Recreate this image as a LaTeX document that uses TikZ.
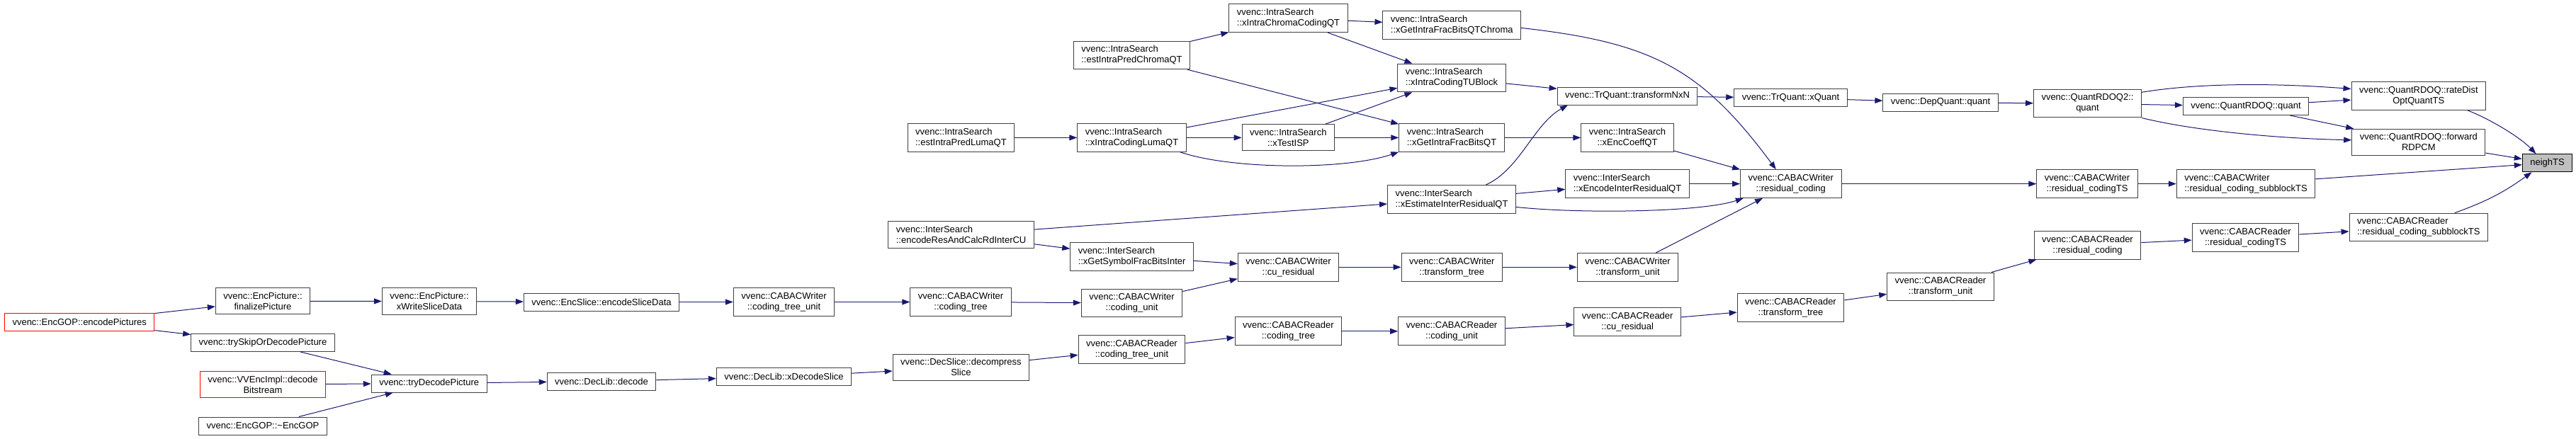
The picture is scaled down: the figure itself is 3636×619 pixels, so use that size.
\documentclass[tikz,border=0pt]{standalone}
\usepackage{fontspec}
\setmainfont{Liberation Sans}
\usetikzlibrary{arrows.meta}
\definecolor{edgeblue}{HTML}{191970}
\definecolor{boxgray}{HTML}{404040}
\definecolor{focusgray}{HTML}{BFBFBF}
\tikzset{
 fn/.style={draw=boxgray,fill=white,line width=1pt,inner xsep=11pt,inner ysep=6.3pt,minimum height=25pt,align=center},
 fnl/.style={fn,align=left},
 rootfn/.style={fn,draw=red},
 focusfn/.style={fn,draw=black,fill=focusgray},
 callarrow/.style={->,draw=edgeblue,line width=1pt}
}
\begin{document}
\begin{tikzpicture}[x=1pt,y=-1pt,>={Triangle[length=11pt,width=8pt]},font=\fontsize{13}{15}\selectfont]
\useasboundingbox (0,0) rectangle (3636,619);
\node[rootfn] (encPics) at (112.2,454.5) {vvenc::EncGOP::encodePictures};
\node[fn] (finPic) at (371,425.3) {vvenc::EncPicture::\\finalizePicture};
\node[fn] (trySkip) at (371,484) {vvenc::trySkipOrDecodePicture};
\node[rootfn] (decBits) at (371,543) {vvenc::VVEncImpl::decode\\Bitstream};
\node[fn] (gopDtor) at (371,601.5) {vvenc::EncGOP::\textasciitilde EncGOP};
\node[fn] (wrSlice) at (606,425.5) {vvenc::EncPicture::\\xWriteSliceData};
\node[fn] (tryDec) at (605.7,541.5) {vvenc::tryDecodePicture};
\node[fn] (encSlice) at (849,426.5) {vvenc::EncSlice::encodeSliceData};
\node[fn] (wCtu) at (1106.5,426.5) {vvenc::CABACWriter\\::coding\_tree\_unit};
\node[fn] (libDec) at (849,538.5) {vvenc::DecLib::decode};
\node[fn] (libSlice) at (1106.5,532.3) {vvenc::DecLib::xDecodeSlice};
\node[fnl] (lumaQT) at (1356.4,194.4) {vvenc::IntraSearch\\::estIntraPredLumaQT};
\node[fnl] (resCalc) at (1356.6,331.5) {vvenc::InterSearch\\::encodeResAndCalcRdInterCU};
\node[fn] (wTree) at (1356,426.5) {vvenc::CABACWriter\\::coding\_tree};
\node[fn] (decomp) at (1356.4,518.8) {vvenc::DecSlice::decompress\\Slice};
\node[fnl] (chromaQT) at (1597.5,78) {vvenc::IntraSearch\\::estIntraPredChromaQT};
\node[fnl] (xLuma) at (1597.5,194.4) {vvenc::IntraSearch\\::xIntraCodingLumaQT};
\node[fnl] (symBits) at (1597.6,362.4) {vvenc::InterSearch\\::xGetSymbolFracBitsInter};
\node[fn] (wCu) at (1597.5,428) {vvenc::CABACWriter\\::coding\_unit};
\node[fn] (rCtu) at (1597.5,493.4) {vvenc::CABACReader\\::coding\_tree\_unit};
\node[fnl] (xChroma) at (1818.5,25.7) {vvenc::IntraSearch\\::xIntraChromaCodingQT};
\node[fn] (testIsp) at (1818.3,194.4) {vvenc::IntraSearch\\::xTestISP};
\node[fn] (wCuRes) at (1818.5,377.3) {vvenc::CABACWriter\\::cu\_residual};
\node[fn] (rTree) at (1818.4,467.8) {vvenc::CABACReader\\::coding\_tree};
\node[fnl] (bitsChroma) at (2049.3,35.4) {vvenc::IntraSearch\\::xGetIntraFracBitsQTChroma};
\node[fnl] (tuBlock) at (2049,110) {vvenc::IntraSearch\\::xIntraCodingTUBlock};
\node[fnl] (bitsQT) at (2049,194.4) {vvenc::IntraSearch\\::xGetIntraFracBitsQT};
\node[fnl] (estInter) at (2049,281.4) {vvenc::InterSearch\\::xEstimateInterResidualQT};
\node[fn] (wTrTree) at (2049.3,377.3) {vvenc::CABACWriter\\::transform\_tree};
\node[fn] (rCu) at (2049,467.8) {vvenc::CABACReader\\::coding\_unit};
\node[fn] (trNxN) at (2297,135.5) {vvenc::TrQuant::transformNxN};
\node[fn] (encCoeff) at (2297,194.4) {vvenc::IntraSearch\\::xEncCoeffQT};
\node[fnl] (encInter) at (2297,259.6) {vvenc::InterSearch\\::xEncodeInterResidualQT};
\node[fn] (wTrUnit) at (2297.5,377.3) {vvenc::CABACWriter\\::transform\_unit};
\node[fn] (rCuRes) at (2297.2,454.5) {vvenc::CABACReader\\::cu\_residual};
\node[fn] (xQuant) at (2527.5,138.2) {vvenc::TrQuant::xQuant};
\node[fn] (wRes) at (2527.8,259.6) {vvenc::CABACWriter\\::residual\_coding};
\node[fn] (rTrTree) at (2527.5,434.5) {vvenc::CABACReader\\::transform\_tree};
\node[fn] (depQuant) at (2739,144.7) {vvenc::DepQuant::quant};
\node[fn] (rTrUnit) at (2739,404.8) {vvenc::CABACReader\\::transform\_unit};
\node[fn] (rdoq2) at (2946.5,146.3) {vvenc::QuantRDOQ2::\\quant};
\node[fn] (wResTS) at (2946,259.6) {vvenc::CABACWriter\\::residual\_codingTS};
\node[fn] (rRes) at (2946.5,346.2) {vvenc::CABACReader\\::residual\_coding};
\node[fn] (rdoqQuant) at (3170,150) {vvenc::QuantRDOQ::quant};
\node[fnl] (wSubTS) at (3170,259.6) {vvenc::CABACWriter\\::residual\_coding\_subblockTS};
\node[fn] (rResTS) at (3169.5,335.5) {vvenc::CABACReader\\::residual\_codingTS};
\node[fn] (rdoqTS) at (3413.8,135.5) {vvenc::QuantRDOQ::rateDist\\OptQuantTS};
\node[fn] (fwdRdpcm) at (3413.8,200.8) {vvenc::QuantRDOQ::forward\\RDPCM};
\node[fnl] (rSubTS) at (3413.8,321) {vvenc::CABACReader\\::residual\_coding\_subblockTS};
\node[focusfn] (neighTS) at (3595.5,230.2) {neighTS};
\foreach \from/\to in {encPics/finPic,encPics/trySkip,finPic/wrSlice,wrSlice/encSlice,encSlice/wCtu,
 wCtu/wTree,wTree/wCu,wCu/wCuRes,symBits/wCuRes,resCalc/symBits,resCalc/estInter,wCuRes/wTrTree,
 wTrTree/wTrUnit,wTrUnit/wRes,estInter/encInter,encInter/wRes,encCoeff/wRes,trNxN/xQuant,
 xQuant/depQuant,depQuant/rdoq2,rdoq2/rdoqQuant,rdoqQuant/rdoqTS,rdoqQuant/fwdRdpcm,fwdRdpcm/neighTS,
 wSubTS/neighTS,wRes/wResTS,wResTS/wSubTS,rRes/rResTS,rResTS/rSubTS,rTrUnit/rRes,rTrTree/rTrUnit,
 rCuRes/rTrTree,rCu/rCuRes,rTree/rCu,rCtu/rTree,decomp/rCtu,libSlice/decomp,libDec/libSlice,
 tryDec/libDec,trySkip/tryDec,decBits/tryDec,gopDtor/tryDec,lumaQT/xLuma,xLuma/testIsp,xLuma/tuBlock,
 testIsp/tuBlock,testIsp/bitsQT,chromaQT/xChroma,chromaQT/bitsQT,xChroma/bitsChroma,xChroma/tuBlock,
 tuBlock/trNxN,bitsQT/encCoeff}
 \draw[callarrow] (\from) -- (\to);
\draw[callarrow] ([xshift=48]estInter.north) .. controls (2145,240) and (2165,175) .. ([xshift=-84]trNxN.south);
\draw[callarrow] ([yshift=-11]estInter.east) .. controls (2230,302) and (2400,300) .. ([xshift=-67]wRes.south);
\draw[callarrow] ([yshift=-4]bitsChroma.east) .. controls (2330,60) and (2400,95) .. ([xshift=-21]wRes.north);
\draw[callarrow] ([xshift=-9]xLuma.south east) .. controls (1740,240) and (1900,240) .. (bitsQT.south west);
\draw[callarrow] ([yshift=16]rdoq2.east) .. controls (3110,116) and (3220,118) .. ([yshift=10]rdoqTS.west);
\draw[callarrow] (rdoq2.south east) .. controls (3090,183) and (3200,195) .. ([yshift=3]fwdRdpcm.west);
\draw[callarrow] ([xshift=69]rdoqTS.south) .. controls (3510,166) and (3555,192) .. ([xshift=-16]neighTS.north);
\draw[callarrow] ([xshift=51]rSubTS.north) to[bend right=8] ([xshift=-22]neighTS.south);
\end{tikzpicture}
\end{document}
